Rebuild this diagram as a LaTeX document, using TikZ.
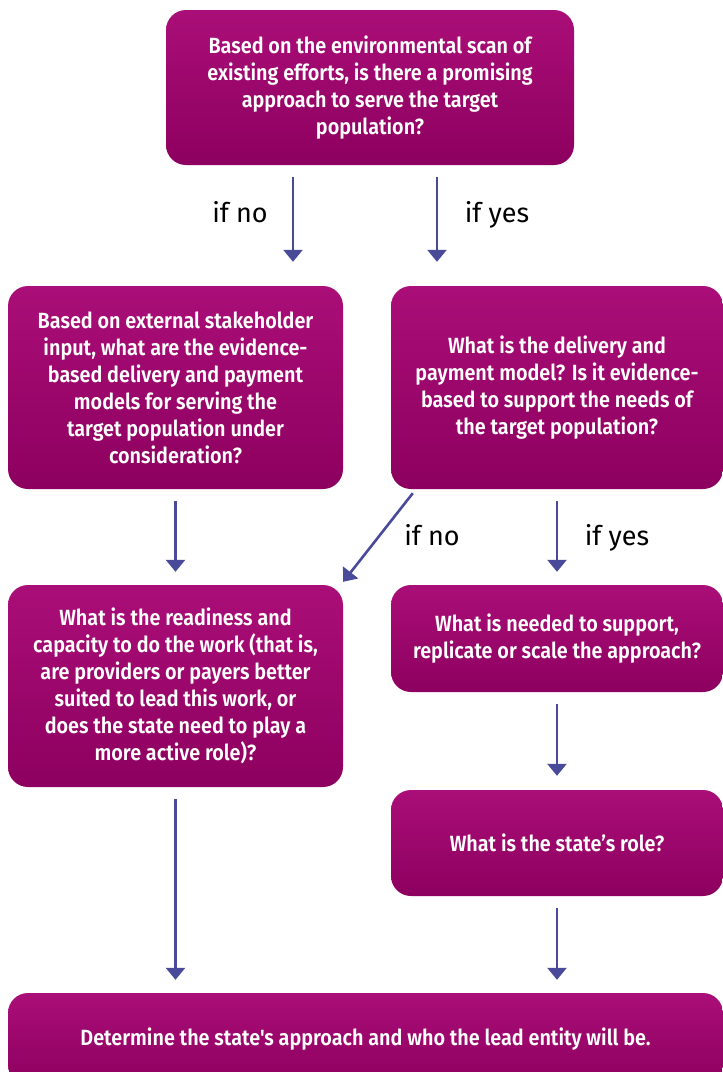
\documentclass[tikz,border=0pt]{standalone}
\usepackage{fontspec}
\setmainfont{Fira Sans}
\newfontfamily\boxfont{Fira Sans SemiBold}[FakeStretch=0.9]
\usetikzlibrary{arrows.meta}

\definecolor{boxtop}{RGB}{170,14,120}
\definecolor{boxbot}{RGB}{141,0,95}
\definecolor{flowblue}{RGB}{74,74,155}

\tikzset{
    qbox/.style={rounded corners=20pt, top color=boxtop, bottom color=boxbot,
        text=white, align=center, inner sep=0pt,
        font=\boxfont\fontsize{22}{27}\selectfont},
    flow/.style={draw=flowblue, line width=2.6pt,
        -{Triangle[width=19pt,length=12pt]},
        shorten <=12pt, shorten >=13pt},
    iflabel/.style={font=\fontsize{27}{30}\selectfont, inner sep=0pt, anchor=base}
}

\begin{document}
\begin{tikzpicture}[x=1pt, y=-1pt]
    \useasboundingbox (0,0) rectangle (723,1072);
    \clip (0,0) rectangle (723,1072);

    % questions
    \node[qbox, minimum width=408pt, minimum height=155pt] (ask) at (370,87.5)
        {Based on the environmental scan of\\existing efforts, is there a promising\\approach to serve the target\\population?};
    \node[qbox, minimum width=335pt, minimum height=203pt] (ext) at (175.5,387.5)
        {Based on external stakeholder\\input, what are the evidence-\\based delivery and payment\\models for serving the\\target population under\\consideration?};
    \node[qbox, minimum width=332pt, minimum height=203pt] (model) at (557,387.5)
        {What is the delivery and\\payment model? Is it evidence-\\based to support the needs of\\the target population?};
    \node[qbox, minimum width=335pt, minimum height=202pt] (ready) at (175.5,686)
        {What is the readiness and\\capacity to do the work (that is,\\are providers or payers better\\suited to lead this work, or\\does the state need to play a\\more active role)?};
    \node[qbox, minimum width=332pt, minimum height=107pt] (support) at (557,638.5)
        {What is needed to support,\\replicate or scale the approach?};
    \node[qbox, minimum width=332pt, minimum height=106pt] (role) at (557,843)
        {What is the state’s role?};
    \node[qbox, minimum width=715pt, minimum height=92pt] (final) at (365.5,1039)
        {Determine the state's approach and who the lead entity will be.};

    % arrows
    \draw[flow, shorten >=24pt] (ask.south -| 293,0) -- (ext.north -| 293,0);
    \draw[flow, shorten >=24pt] (ask.south -| 437,0) -- (model.north -| 437,0);
    \draw[flow] (ext.south) -- (ready.north);
    \draw[flow] (model.south) -- (support.north);
    \draw[flow, shorten <=0pt, shorten >=0pt]
        ([xshift=22pt,yshift=-4pt]model.south west) -- ([yshift=3pt]ready.north east);
    \draw[flow, shorten >=14pt] (support.south) -- (role.north);
    \draw[flow] (ready.south) -- (ready.south |- final.north);
    \draw[flow] (role.south) -- (role.south |- final.north);

    % branch labels
    \node[iflabel] (noA) at (240,222) {if no};
    \node[iflabel] (yesA) at (497,222) {if yes};
    \node[iflabel] (noB) at (432,545) {if no};
    \node[iflabel] (yesB) at (617,545) {if yes};
\end{tikzpicture}
\end{document}
